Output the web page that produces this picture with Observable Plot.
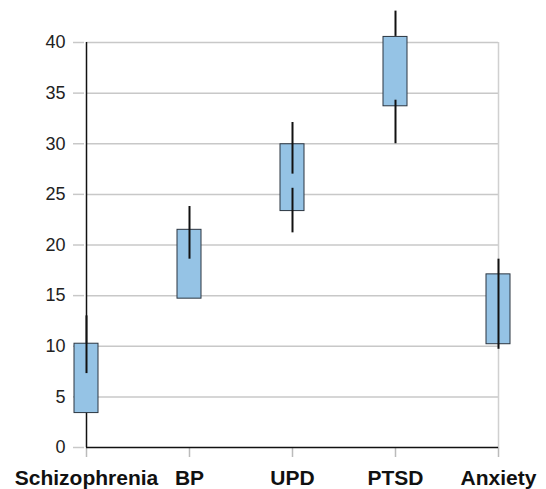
<!DOCTYPE html>
<html>
<head>
<meta charset="utf-8">
<script src="https://cdn.jsdelivr.net/npm/d3@7"></script>
<script src="https://cdn.jsdelivr.net/npm/@observablehq/plot@0.6"></script>
<style>
  html, body { margin: 0; padding: 0; background: #fff; }
  #chart svg { display: block; overflow: visible; }
</style>
</head>
<body>
<div id="chart"></div>
<script>
const categories = ["Schizophrenia", "BP", "UPD", "PTSD", "Anxiety"];
const boxLow  = [3.4, 14.7, 23.35, 33.7, 10.2];
const boxHigh = [10.25, 21.5, 29.95, 40.55, 17.1];
// whisker segments: category, top, bottom
const segCategory = ["Schizophrenia", "BP", "UPD", "UPD", "PTSD", "PTSD", "Anxiety"];
const segTop      = [13.0, 23.8, 32.1, 25.6, 43.1, 34.3, 18.6];
const segBottom   = [7.3, 18.6, 27.0, 21.2, 40.6, 30.0, 9.7];
const yTicks = [0, 5, 10, 15, 20, 25, 30, 35, 40];

const boxes = categories.map((c, i) => ({cat: c, low: boxLow[i], high: boxHigh[i]}));
const segs = segCategory.map((c, i) => ({cat: c, top: segTop[i], bottom: segBottom[i]}));
const first = categories[0], last = categories[categories.length - 1];

const chart = Plot.plot({
  width: 546,
  height: 489,
  marginLeft: 84,
  marginRight: 47,
  marginTop: 42,
  marginBottom: 42,
  style: {fontFamily: "'Liberation Sans', Arial, Helvetica, sans-serif", background: "#fff"},
  x: {type: "point", domain: categories, padding: 0, label: null},
  y: {domain: [0, 40], ticks: yTicks, label: null},
  marks: [
    Plot.ruleY(yTicks.filter(d => d > 0), {y: d => d, x1: () => first, x2: () => last, stroke: "#c8c8c8", strokeWidth: 1.5}),
    Plot.ruleX([last], {x: d => d, y1: 0, y2: 40, stroke: "#d0d0d0", strokeWidth: 1.5}),
    Plot.ruleX([first], {x: d => d, y1: 0, y2: 40, stroke: "#111", strokeWidth: 1.5}),
    Plot.axisY({ticks: yTicks, label: null, tickSize: 11, tickPadding: 8, stroke: "#c8c8c8", strokeWidth: 1.5, fill: "#222", fontSize: 18, tickFormat: d => String(d)}),
    Plot.axisX({label: null, tickSize: 10, tickPadding: 13, stroke: "#bbb", strokeWidth: 1.5, fill: "#111", fontSize: 21, fontWeight: "bold"}),
    Plot.rect(boxes, {x1: "cat", x2: "cat", y1: "low", y2: "high", fill: "#95c3e5", stroke: "#2b3540", strokeWidth: 1, insetLeft: -12, insetRight: -12}),
    Plot.ruleX(segs, {x: "cat", y1: "bottom", y2: "top", stroke: "#111", strokeWidth: 2}),
    Plot.ruleY([0], {y: d => d, x1: () => first, x2: () => last, stroke: "#111", strokeWidth: 1.5})
  ]
});
document.getElementById("chart").appendChild(chart);
</script>
</body>
</html>
